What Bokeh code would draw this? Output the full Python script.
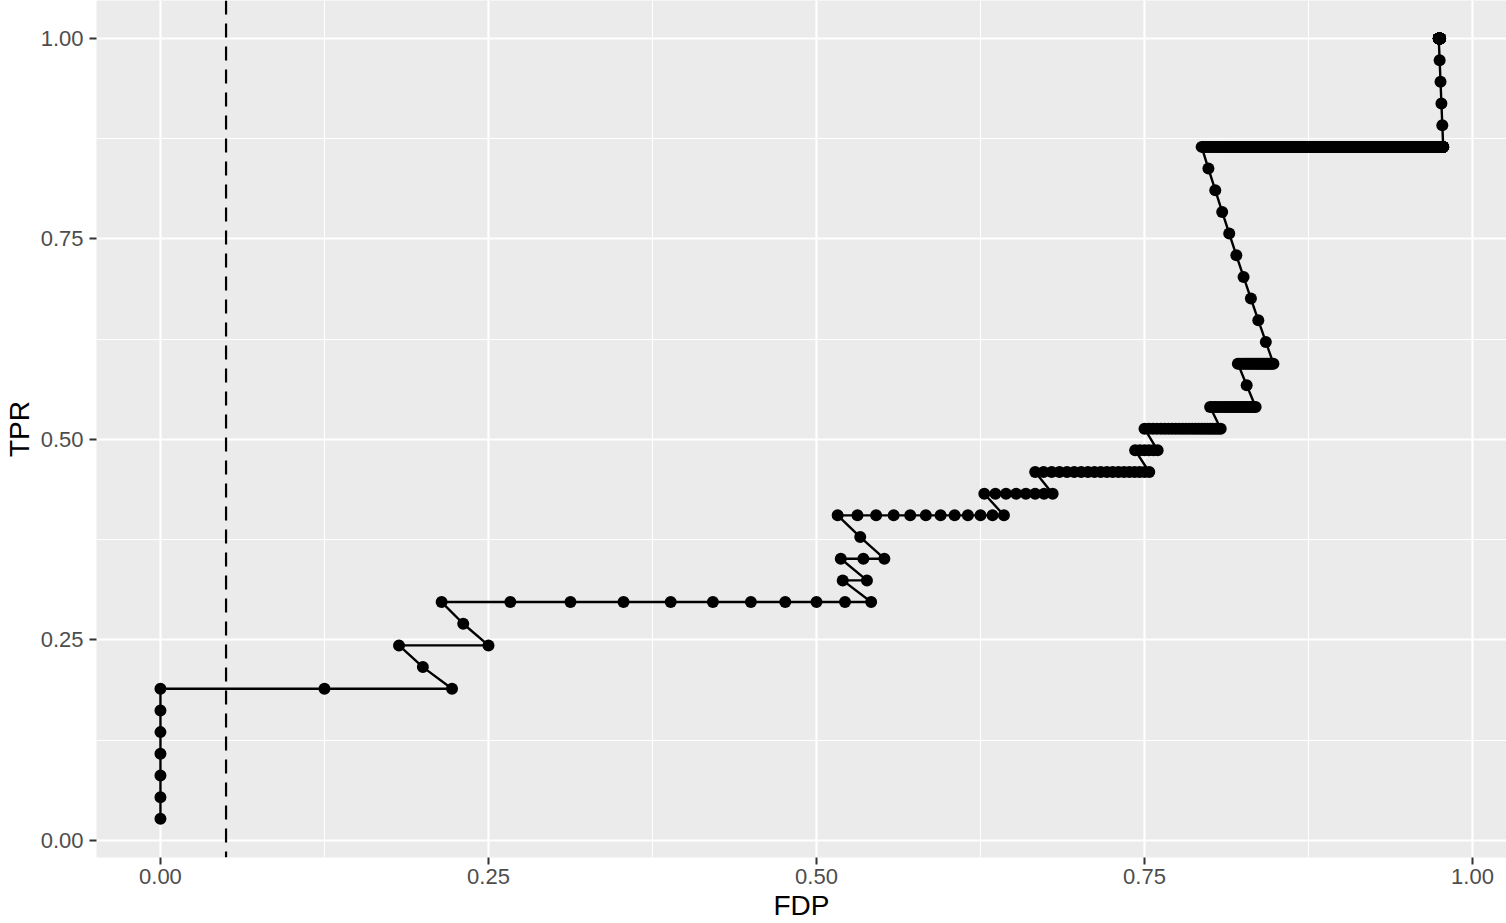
from bokeh.plotting import figure
from bokeh.models import FixedTicker, Span, Range1d
from bokeh.embed import file_html
from bokeh.resources import INLINE

# ---- data: discovery path (number of true / false discoveries at each turn) ----
n_signals = 37
corner_true = [1, 7, 7, 9, 9, 11, 11, 12, 12, 13, 13, 15, 15, 16, 16, 17, 17,
               18, 18, 19, 19, 20, 20, 22, 22, 32, 32, 37, 37]
corner_false = [0, 0, 2, 2, 3, 3, 13, 13, 14, 14, 16, 16, 27, 27, 34, 34, 52,
                52, 57, 57, 80, 80, 101, 101, 123, 123, 1400, 1400, 1460]
fdp_target = 0.05

tick_values = [0.0, 0.25, 0.5, 0.75, 1.0]
minor_values = [0.125, 0.375, 0.625, 0.875]
tick_labels = ["0.00", "0.25", "0.50", "0.75", "1.00"]

# expand the path step by step (each step adds one discovery)
true_steps = [corner_true[0]]
false_steps = [corner_false[0]]
for i in range(1, len(corner_true)):
    s0, v0 = corner_true[i - 1], corner_false[i - 1]
    s1, v1 = corner_true[i], corner_false[i]
    if s1 != s0:
        for s in range(s0 + 1, s1 + 1):
            true_steps.append(s)
            false_steps.append(v0)
    else:
        for v in range(v0 + 1, v1 + 1):
            true_steps.append(s0)
            false_steps.append(v)

fdp = [v / (v + s) for s, v in zip(true_steps, false_steps)]
tpr = [s / n_signals for s in true_steps]

# ---- figure ----
p = figure(width=1506, height=923, output_backend="svg", toolbar_location=None,
           x_range=Range1d(-0.04874, 1.02589), y_range=Range1d(-0.0212, 1.04738),
           min_border_left=95, min_border_right=0, min_border_top=0,
           min_border_bottom=66)

p.background_fill_color = "#EBEBEB"
p.border_fill_color = "white"
p.outline_line_color = None

p.xaxis.ticker = FixedTicker(ticks=tick_values, minor_ticks=minor_values)
p.yaxis.ticker = FixedTicker(ticks=tick_values, minor_ticks=minor_values)
overrides = {v: l for v, l in zip(tick_values, tick_labels)}
p.xaxis.major_label_overrides = overrides
p.yaxis.major_label_overrides = overrides

for g in (p.xgrid, p.ygrid):
    g.grid_line_color = "white"
    g.grid_line_width = 2.2
    g.minor_grid_line_color = "white"
    g.minor_grid_line_width = 1.1

for ax in (p.xaxis, p.yaxis):
    ax.axis_line_color = None
    ax.major_tick_line_color = "#333333"
    ax.major_tick_line_width = 2
    ax.major_tick_out = 7
    ax.major_tick_in = 0
    ax.minor_tick_line_color = None
    ax.major_label_text_font = "Liberation Sans"
    ax.major_label_text_font_size = "22px"
    ax.major_label_text_color = "#4D4D4D"
    ax.axis_label_text_font = "Liberation Sans"
    ax.axis_label_text_font_size = "28px"
    ax.axis_label_text_font_style = "normal"
    ax.axis_label_text_color = "black"

p.xaxis.axis_label = "FDP"
p.yaxis.axis_label = "TPR"
p.xaxis.major_label_standoff = 4
p.xaxis.axis_label_standoff = 3
p.yaxis.major_label_standoff = 6
p.yaxis.axis_label_standoff = 3

p.add_layout(Span(location=fdp_target, dimension="height", line_color="black",
                  line_width=2.2, line_dash="14 9"))

p.line(fdp, tpr, line_color="black", line_width=2.4)
p.scatter(fdp, tpr, size=12, fill_color="black", line_color=None)

open("out.html", "w").write(file_html(p, INLINE))
